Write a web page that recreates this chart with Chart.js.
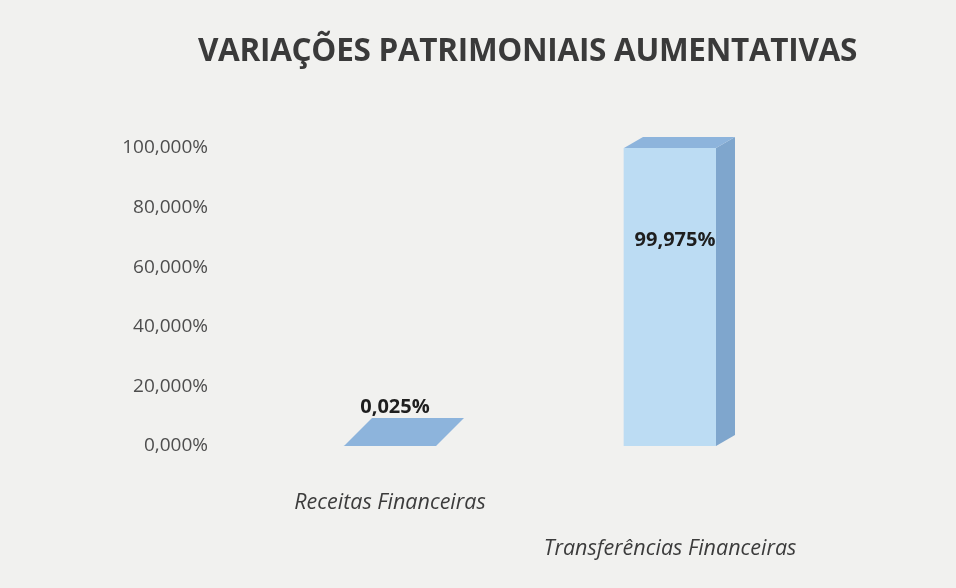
<!DOCTYPE html>
<html>
<head>
<meta charset="utf-8">
<script src="https://cdn.jsdelivr.net/npm/chart.js@4"></script>
<style>
  html, body { margin: 0; padding: 0; background: #f1f1ef; }
  #wrap { position: relative; width: 956px; height: 588px; }
  #title {
    position: absolute; left: 0; top: 27px; width: 956px; padding-left: 99px; box-sizing: border-box;
    text-align: center; font: bold 31.5px "Open Sans", sans-serif; color: #3a3a3a; letter-spacing: -0.3px;
  }
</style>
</head>
<body>
<div id="wrap">
  <div id="title">VARIAÇÕES PATRIMONIAIS AUMENTATIVAS</div>
  <canvas id="vpaChart" width="956" height="588"></canvas>
</div>
<script>
const categories = [['Receitas Financeiras'], ['', 'Transferências Financeiras']];
const percentages = [0.025, 99.975];
const yTicks = [0, 20, 40, 60, 80, 100];

function pct(v, digits) {
  return v.toFixed(digits).replace('.', ',') + '%';
}

// fake 3D: side + top faces, depth gets deeper near the floor
const boxPlugin = {
  id: 'box3d',
  afterDatasetsDraw(chart) {
    const ctx = chart.ctx;
    const area = chart.chartArea;
    chart.getDatasetMeta(0).data.forEach(bar => {
      const half = bar.width / 2;
      const x1 = bar.x - half, x2 = bar.x + half;
      const top = bar.y, bottom = bar.base;
      const t = (bottom - top) / (area.bottom - area.top);
      const dx = 28 - 9 * t, dy = -28 + 17 * t;

      ctx.save();
      // side
      if (bottom - top > 2) {
        ctx.fillStyle = '#7fa6cd';
        ctx.beginPath();
        ctx.moveTo(x2, top);
        ctx.lineTo(x2 + dx, top + dy);
        ctx.lineTo(x2 + dx, bottom + dy);
        ctx.lineTo(x2, bottom);
        ctx.closePath();
        ctx.fill();
      }
      // top
      ctx.fillStyle = '#8db4dc';
      ctx.beginPath();
      ctx.moveTo(x1, top);
      ctx.lineTo(x2, top);
      ctx.lineTo(x2 + dx, top + dy);
      ctx.lineTo(x1 + dx, top + dy);
      ctx.closePath();
      ctx.fill();
      ctx.restore();
    });
  }
};

const valueLabels = {
  id: 'valueLabels',
  afterDatasetsDraw(chart) {
    const ctx = chart.ctx;
    ctx.save();
    ctx.font = 'bold 20px "Open Sans", sans-serif';
    ctx.fillStyle = '#1e1e1e';
    ctx.textAlign = 'center';
    ctx.textBaseline = 'middle';
    chart.getDatasetMeta(0).data.forEach((bar, i) => {
      const tall = bar.base - bar.y > 50;
      const y = tall ? bar.y + 92 : bar.y - 39;
      ctx.fillText(pct(percentages[i], 3), bar.x + 5, y);
    });
    ctx.restore();
  }
};

new Chart(document.getElementById('vpaChart'), {
  type: 'bar',
  data: {
    labels: categories,
    datasets: [{
      data: percentages,
      backgroundColor: '#bcdcf3',
      borderWidth: 0,
      barThickness: 92
    }]
  },
  options: {
    responsive: false,
    animation: false,
    layout: { padding: { left: 100, right: 146, top: 148, bottom: 16 } },
    plugins: {
      legend: { display: false },
      tooltip: { enabled: false }
    },
    scales: {
      x: {
        afterFit(scale) { scale.height = 126; },
        grid: { display: false, drawTicks: false },
        border: { display: false },
        ticks: {
          padding: 34,
          color: '#3c3c3c',
          font: { family: '"Open Sans", sans-serif', size: 21.5, style: 'italic', lineHeight: '46px' }
        }
      },
      y: {
        min: 0,
        max: 100,
        afterFit(scale) { scale.width = 150; },
        afterBuildTicks(scale) { scale.ticks = yTicks.map(v => ({ value: v })); },
        grid: { display: false, drawTicks: false },
        border: { display: false },
        ticks: {
          padding: 42,
          color: '#4e4e4e',
          font: { family: '"Open Sans", sans-serif', size: 19 },
          callback: v => pct(v, 3)
        }
      }
    }
  },
  plugins: [boxPlugin, valueLabels]
});
</script>
</body>
</html>
